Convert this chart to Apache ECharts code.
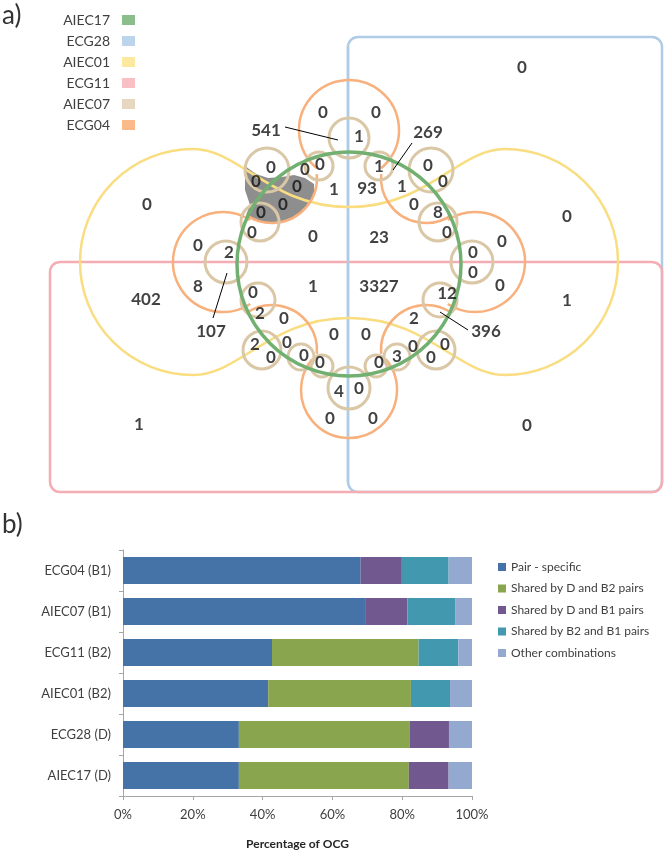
<!DOCTYPE html>
<html>
<head>
<meta charset="utf-8">
<script src="https://cdn.jsdelivr.net/npm/echarts@6/dist/echarts.min.js"></script>
<style>
html,body{margin:0;padding:0;background:#fff;}
#chart{width:666px;height:852px;}
</style>
</head>
<body>
<div id="chart"></div>
<script>
// ---------- DATA: panel a (Venn counts) ----------
const vennSets = ['AIEC17', 'ECG28', 'AIEC01', 'ECG11', 'AIEC07', 'ECG04'];
const vennCounts = [
  0, 0, 402, 1, 0, 1, 0,
  0, 0, 1, 541, 269,
  0, 0, 0, 0, 0, 0, 0,
  1, 0, 0, 1, 0, 8, 0,
  1, 93, 0, 23, 1, 3327,
  0, 0, 2, 8, 107,
  0, 0, 0, 0, 12, 396,
  0, 2, 0, 2, 0, 0, 0, 0,
  0, 0,
  0, 3, 0, 0, 0, 2,
  4, 0, 0, 0
];

// ---------- DATA: panel b (stacked bars, % of OCG) ----------
const categories = ['AIEC17 (D)', 'ECG28 (D)', 'AIEC01 (B2)', 'ECG11 (B2)', 'AIEC07 (B1)', 'ECG04 (B1)'];
const seriesNames = ['Pair - specific', 'Shared by D and B2 pairs', 'Shared by D and B1 pairs', 'Shared by B2 and B1 pairs', 'Other combinations'];
const pairSpecific = [33.2, 33.2, 41.6, 42.7, 69.6, 68.1];
const sharedDB2    = [48.7, 48.9, 40.9, 42.0, 0, 0];
const sharedDB1    = [11.4, 11.3, 0, 0, 11.9, 11.8];
const sharedB2B1   = [0, 0, 11.2, 11.4, 13.8, 13.4];
const otherComb    = [6.7, 6.6, 6.3, 3.9, 4.7, 6.7];
const xTicks = [0, 20, 40, 60, 80, 100];

// ---------- LAYOUT / STYLE (not data) ----------
const vennLabelXY = [
  [522,68],[147,205],[146,300],[139,425],[567,217],[567,301],[527,426],
  [323,113],[376,113],[359,137],[266,131],[428,133],
  [271,168],[305,170],[320,165],[256,182],[297,187],[283,205],[261,213],
  [379,167],[428,166],[443,182],[402,187],[414,205],[438,213],[447,233],
  [334,190],[367,189],[313,237],[379,238],[313,287],[379,287],
  [252,233],[198,246],[229,253],[198,287],[211,332],
  [502,242],[473,253],[473,273],[500,286],[447,294],[486,332],
  [253,293],[260,314],[284,319],[255,345],[287,343],[271,358],[304,356],[320,363],
  [334,335],[366,335],
  [379,363],[397,357],[413,347],[431,358],[445,345],[414,319],
  [339,392],[359,389],[330,419],[373,419]
];
const setLineColors = {green:'#72B072', blue:'#AFCBE6', yellow:'#F9DD80', pink:'#F4ADB2', tan:'#DAC7A6', orange:'#F8B07C'};
const legendSwatch = ['#8CBE8C', '#BDD5EC', '#FDE8A0', '#F8C0C4', '#E5D7C0', '#FBBA8A'];
const barColors = ['#4572A7', '#89A54E', '#71588F', '#4198AF', '#93A9CF'];

const geo = {
  blueRect: [348, 37, 314, 455],
  pinkRect: [50, 262, 612, 230],
  green: [349, 264, 112],
  yLeft: [193, 262, 113], yRight: [505, 262, 113],
  yWaves: [
    [193,149, 240,149, 270,207, 349,207],
    [349,207, 428,207, 458,149, 505,149],
    [193,375, 240,375, 270,318, 349,318],
    [349,318, 428,318, 458,375, 505,375]
  ],
  orangeArcs: [
    [349,130,50,130,410],
    [272,178,45,-5,125],
    [426,178,45,55,185],
    [223,262,50,57,303],
    [475,262,50,-123,123],
    [272,350,45,-125,5],
    [426,350,45,175,305],
    [349,390,48,-40,220]
  ],
  tans: [
    [349,138,20],[319,166,14],[379,166,14],[267,170,22],[431,170,22],
    [260,222,19],[438,222,19],[226,262,21],[472,262,21],
    [258,300,17],[440,300,17],[262,350,19],[436,350,19],
    [301,357,13],[397,357,13],[322,366,11],[376,366,11],[349,388,21]
  ],
  leaders: [
    [285,127,338,140],[412,143,393,170],[227,273,213,318],[440,312,468,330]
  ],
  greyTop: [[245,166],[256,174],[268,178],[282,177],[294,175],[305,178],[314,184]],
  greyArc: [272,178,45,20,125],
  greyLeft: [[250,205],[245,190]]
};

const chart = echarts.init(document.getElementById('chart'), null, {renderer:'canvas'});
const FONT = 'Lato';
const deg = Math.PI / 180;

function renderVenn(params, api) {
  const P = (x, y) => api.coord([x, y]);
  const S = v => api.size([v, 0])[0];
  const els = [];
  // grey region
  const gp = geo.greyTop.map(p => P(p[0], p[1]));
  const ga = geo.greyArc;
  for (let a = ga[3]; a <= ga[4]; a += 7) {
    gp.push(P(ga[0] + ga[2] * Math.cos(a * deg), ga[1] + ga[2] * Math.sin(a * deg)));
  }
  geo.greyLeft.forEach(p => gp.push(P(p[0], p[1])));
  els.push({type:'polygon', shape:{points: gp}, style:{fill:'#8E8E8E', stroke:'none'}});
  // blue rect (ECG28)
  const br = geo.blueRect, b0 = P(br[0], br[1]);
  els.push({type:'rect', shape:{x:b0[0], y:b0[1], width:S(br[2]), height:S(br[3]), r:10},
    style:{fill:'none', stroke:setLineColors.blue, lineWidth:2.5}});
  // pink rect (ECG11)
  const pr = geo.pinkRect, p0 = P(pr[0], pr[1]);
  els.push({type:'rect', shape:{x:p0[0], y:p0[1], width:S(pr[2]), height:S(pr[3]), r:10},
    style:{fill:'none', stroke:setLineColors.pink, lineWidth:2.5}});
  // blue divider on top
  const bl1 = P(br[0], br[1] + 10), bl2 = P(br[0], br[1] + br[3] - 10);
  els.push({type:'line', shape:{x1:bl1[0], y1:bl1[1], x2:bl2[0], y2:bl2[1]},
    style:{stroke:setLineColors.blue, lineWidth:2.5}});
  // yellow (AIEC01)
  const yl = geo.yLeft, yr = geo.yRight;
  const ylc = P(yl[0], yl[1]), yrc = P(yr[0], yr[1]);
  els.push({type:'arc', shape:{cx:ylc[0], cy:ylc[1], r:S(yl[2]), startAngle:90*deg, endAngle:270*deg, clockwise:true},
    style:{fill:'none', stroke:setLineColors.yellow, lineWidth:2.5}});
  els.push({type:'arc', shape:{cx:yrc[0], cy:yrc[1], r:S(yr[2]), startAngle:-90*deg, endAngle:90*deg, clockwise:true},
    style:{fill:'none', stroke:setLineColors.yellow, lineWidth:2.5}});
  geo.yWaves.forEach(w => {
    const a = P(w[0], w[1]), c1 = P(w[2], w[3]), c2 = P(w[4], w[5]), b = P(w[6], w[7]);
    els.push({type:'bezierCurve', shape:{x1:a[0], y1:a[1], cpx1:c1[0], cpy1:c1[1], cpx2:c2[0], cpy2:c2[1], x2:b[0], y2:b[1]},
      style:{fill:'none', stroke:setLineColors.yellow, lineWidth:2.5}});
  });
  // orange (ECG04)
  geo.orangeArcs.forEach(o => {
    const c = P(o[0], o[1]);
    els.push({type:'arc', shape:{cx:c[0], cy:c[1], r:S(o[2]), startAngle:o[3]*deg, endAngle:o[4]*deg, clockwise:true},
      style:{fill:'none', stroke:setLineColors.orange, lineWidth:2.5}});
  });
  // tan (AIEC07)
  geo.tans.forEach(t => {
    const c = P(t[0], t[1]);
    els.push({type:'circle', shape:{cx:c[0], cy:c[1], r:S(t[2])},
      style:{fill:'none', stroke:setLineColors.tan, lineWidth:3}});
  });
  // green (AIEC17)
  const g = geo.green, gc = P(g[0], g[1]);
  els.push({type:'circle', shape:{cx:gc[0], cy:gc[1], r:S(g[2])},
    style:{fill:'none', stroke:setLineColors.green, lineWidth:3.5}});
  // leader lines
  geo.leaders.forEach(l => {
    const a = P(l[0], l[1]), b = P(l[2], l[3]);
    els.push({type:'line', shape:{x1:a[0], y1:a[1], x2:b[0], y2:b[1]}, style:{stroke:'#000', lineWidth:1}});
  });
  // set legend (top-left)
  vennSets.forEach((name, i) => {
    const ty = 20 + i * 21;
    const t = P(110, ty), r = P(122, ty - 5);
    els.push({type:'text', style:{text:name, x:t[0], y:t[1], align:'right', verticalAlign:'middle',
      font:'14px ' + FONT, fill:'#404040'}});
    els.push({type:'rect', shape:{x:r[0], y:r[1], width:S(13), height:S(10)}, style:{fill:legendSwatch[i]}});
  });
  return {type:'group', children: els};
}

const labelData = vennCounts.map((v, i) => [vennLabelXY[i][0], vennLabelXY[i][1], v]);

const option = {
  animation: false,
  backgroundColor: '#fff',
  textStyle: {fontFamily: FONT},
  graphic: [
    {type:'text', left: 2, top: 3, style:{text:'a)', font:'26px ' + FONT, fill:'#333'}},
    {type:'text', left: 2, top: 512, style:{text:'b)', font:'26px ' + FONT, fill:'#333'}}
  ],
  grid: [
    {left: 123, right: 194, top: 550, bottom: 56, containLabel: false},
    {left: 0, top: 0, width: 666, height: 852}
  ],
  xAxis: [
    {type:'value', gridIndex:0, min:0, max:100, interval:20,
     axisLine:{show:true, lineStyle:{color:'#A6A6A6'}},
     axisTick:{show:true, length:4, lineStyle:{color:'#A6A6A6'}},
     splitLine:{show:false},
     axisLabel:{formatter:'{value}%', color:'#404040', fontSize:13, margin:12, fontFamily:FONT},
     name:'Percentage of OCG', nameLocation:'middle', nameGap:42,
     nameTextStyle:{fontWeight:'bold', fontSize:12, color:'#262626', fontFamily:FONT}},
    {type:'value', gridIndex:1, min:0, max:666, show:false}
  ],
  yAxis: [
    {type:'category', gridIndex:0, data:categories,
     axisLine:{show:true, lineStyle:{color:'#A6A6A6'}},
     axisTick:{show:true, length:4, lineStyle:{color:'#A6A6A6'}},
     axisLabel:{color:'#404040', fontSize:13, margin:12, fontFamily:FONT}},
    {type:'value', gridIndex:1, min:0, max:852, inverse:true, show:false}
  ],
  legend: {
    orient:'vertical', left:493, top:556, itemWidth:8, itemHeight:8, itemGap:9.5,
    icon:'rect', data: seriesNames,
    textStyle:{fontSize:12, color:'#404040', fontFamily:FONT}
  },
  series: [
    {type:'custom', xAxisIndex:1, yAxisIndex:1, data:[[0,0]], renderItem: renderVenn, silent:true, z:1},
    {type:'scatter', xAxisIndex:1, yAxisIndex:1, data:labelData, symbolSize:1, silent:true, z:5,
     itemStyle:{color:'rgba(0,0,0,0)'},
     label:{show:true, position:'inside', formatter: p => String(p.value[2]),
       fontFamily:FONT, fontWeight:'bold', fontSize:17, color:'#111'}},
    {name:seriesNames[0], type:'bar', stack:'t', data:pairSpecific, barCategoryGap:'34%', itemStyle:{color:barColors[0]}},
    {name:seriesNames[1], type:'bar', stack:'t', data:sharedDB2, itemStyle:{color:barColors[1]}},
    {name:seriesNames[2], type:'bar', stack:'t', data:sharedDB1, itemStyle:{color:barColors[2]}},
    {name:seriesNames[3], type:'bar', stack:'t', data:sharedB2B1, itemStyle:{color:barColors[3]}},
    {name:seriesNames[4], type:'bar', stack:'t', data:otherComb, itemStyle:{color:barColors[4]}}
  ]
};
chart.setOption(option);
</script>
</body>
</html>
